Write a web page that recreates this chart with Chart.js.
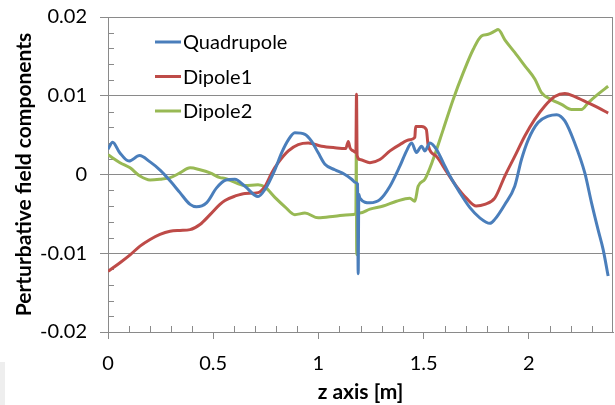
<!DOCTYPE html>
<html><head><meta charset="utf-8">
<script src="https://cdn.jsdelivr.net/npm/chart.js@4.4.0/dist/chart.umd.min.js"></script>
<style>
html,body{margin:0;padding:0;background:#fff;}
#wrap{position:relative;width:615px;height:405px;overflow:hidden;}
#corner{position:absolute;left:0;top:362px;width:5px;height:43px;background:#eeeeee;}
canvas{position:absolute;left:0;top:0;}
</style></head><body>
<div id="wrap"><canvas id="c" width="615" height="405"></canvas><div id="corner"></div></div>
<script>
const seriesNames = ['Quadrupole', 'Dipole1', 'Dipole2'];
const seriesColors = ['#4A7EBB', '#BE4B48', '#98B954'];
const xTickValues = [0, 0.5, 1, 1.5, 2];
const xTickLabels = ['0', '0.5', '1', '1.5', '2'];
const yTickValues = [-0.02, -0.01, 0, 0.01, 0.02];
const yTickLabels = ['-0.02', '-0.01', '0', '0.01', '0.02'];
const xMinorTicks = [0.1,0.2,0.3,0.4,0.6,0.7,0.8,0.9,1.1,1.2,1.3,1.4,1.6,1.7,1.8,1.9,2.1,2.2,2.3];
const yMinorTicks = [-0.018,-0.016,-0.014,-0.012,-0.008,-0.006,-0.004,-0.002,0.002,0.004,0.006,0.008,0.012,0.014,0.016,0.018];

const quadZ = [0,0.022,0.055,0.1,0.15,0.2,0.25,0.295,0.342,0.39,0.42,0.468,0.516,0.56,0.603,0.651,0.713,0.746,0.793,0.825,0.857,0.888,0.936,0.968,0.999,1.031,1.078,1.126,1.158,1.175,1.186,1.189,1.192,1.197,1.245,1.292,1.340,1.387,1.419,1.443,1.466,1.490,1.506,1.530,1.561,1.593,1.625,1.672,1.72,1.767,1.815,1.838,1.886,1.933,1.965,1.997,2.044,2.092,2.132,2.171,2.218,2.266,2.298,2.329,2.353,2.377];
const quadV = [0.0032,0.0041,0.0028,0.0017,0.0024,0.0016,0.0005,-0.0008,-0.0023,-0.0038,-0.0041,-0.0036,-0.0017,-0.0007,-0.0006,-0.0015,-0.0028,-0.0019,0.0006,0.00275,0.0044,0.0053,0.0051,0.0042,0.00275,0.0013,0.0006,0,-0.0006,-0.001,-0.0012,-0.0126,-0.0025,-0.003,-0.0036,-0.0032,-0.0015,0.00105,0.003,0.004,0.0028,0.0036,0.003,0.004,0.0032,0.0015,-0.0002,-0.0023,-0.0042,-0.0055,-0.0062,-0.0057,-0.0038,-0.0015,0.0019,0.0044,0.0066,0.0074,0.0076,0.0068,0.004,0.0002,-0.0036,-0.007,-0.0095,-0.0129];

const dip1Z = [0,0.057,0.105,0.152,0.2,0.247,0.295,0.342,0.39,0.437,0.485,0.532,0.556,0.603,0.651,0.713,0.746,0.778,0.809,0.857,0.904,0.952,1.015,1.078,1.13,1.142,1.15,1.165,1.178,1.181,1.184,1.197,1.245,1.292,1.340,1.387,1.434,1.458,1.462,1.490,1.513,1.521,1.561,1.608,1.656,1.703,1.750,1.79,1.838,1.886,1.933,1.981,2.028,2.076,2.123,2.171,2.218,2.282,2.329,2.377];
const dip1V = [-0.0123,-0.0112,-0.0102,-0.0091,-0.00825,-0.0076,-0.0072,-0.0071,-0.007,-0.00635,-0.0051,-0.0038,-0.0033,-0.00275,-0.0024,-0.0023,-0.0015,0.0002,0.0015,0.003,0.0038,0.004,0.0036,0.0034,0.0033,0.0042,0.0034,0.003,0.0028,0.0102,0.0024,0.0019,0.0015,0.0019,0.003,0.0038,0.0044,0.0047,0.0061,0.0061,0.0057,0.0038,0.0023,0.0004,-0.0015,-0.003,-0.004,-0.0038,-0.003,-0.0002,0.0023,0.0049,0.007,0.0087,0.0099,0.0103,0.0099,0.0091,0.0085,0.0078];

const dip2Z = [0,0.057,0.105,0.152,0.2,0.247,0.295,0.342,0.39,0.437,0.485,0.532,0.556,0.603,0.651,0.713,0.746,0.793,0.841,0.888,0.936,0.999,1.078,1.15,1.178,1.180,1.182,1.185,1.197,1.245,1.308,1.371,1.434,1.458,1.474,1.506,1.545,1.593,1.640,1.688,1.736,1.775,1.807,1.838,1.854,1.886,1.933,1.981,2.029,2.060,2.108,2.155,2.203,2.250,2.282,2.329,2.377];
const dip2V = [0.0025,0.0015,0.00085,-0.0002,-0.0007,-0.0006,-0.0004,0.0002,0.00085,0.0006,0.0002,-0.0004,-0.0005,-0.001,-0.0014,-0.0013,-0.0016,-0.0029,-0.0041,-0.0051,-0.0049,-0.0055,-0.0053,-0.0051,-0.005,0.003,-0.0102,-0.005,-0.0049,-0.0044,-0.004,-0.0034,-0.003,-0.0034,-0.0015,-0.0006,0.0019,0.0057,0.0095,0.0129,0.0159,0.0176,0.0178,0.0182,0.0184,0.0171,0.0155,0.0138,0.0121,0.0104,0.0095,0.0089,0.00825,0.00825,0.0091,0.0102,0.0112];

const xTitle = 'z axis [m]';
const yTitle = 'Perturbative field components';

const GRID = '#8a8a8a';
const FONT = 'Lato';

function pts(zs, vs) { return zs.map((z, i) => ({x: z, y: vs[i]})); }
const allSeries = [[quadZ, quadV], [dip1Z, dip1V], [dip2Z, dip2V]];

const extras = {
  id: 'extras',
  beforeDatasetsDraw(chart) {
    const {ctx, chartArea: a, scales: {x, y}} = chart;
    ctx.save();
    ctx.strokeStyle = GRID;
    ctx.lineWidth = 1;
    ctx.beginPath();
    xMinorTicks.forEach(v => {
      const px = Math.round(x.getPixelForValue(v)) + 0.5;
      ctx.moveTo(px, a.bottom); ctx.lineTo(px, a.bottom - 6);
    });
    yMinorTicks.forEach(v => {
      const py = Math.round(y.getPixelForValue(v)) + 0.5;
      ctx.moveTo(a.left, py); ctx.lineTo(a.left + 6, py);
    });
    ctx.stroke();
    ctx.beginPath();
    ctx.rect(Math.round(a.left) + 0.5, Math.round(a.top) + 0.5, Math.round(a.right - a.left) - 1, Math.round(a.bottom - a.top));
    ctx.stroke();
    ctx.restore();
  },
  afterDatasetsDraw(chart) {
    const ctx = chart.ctx;
    ctx.save();
    ctx.font = '20px ' + FONT;
    ctx.textBaseline = 'middle';
    ctx.textAlign = 'left';
    chart.data.datasets.forEach((ds, i) => {
      const yy = 42 + i * 34.5;
      ctx.strokeStyle = ds.borderColor;
      ctx.lineWidth = 3;
      ctx.beginPath(); ctx.moveTo(155, yy); ctx.lineTo(181, yy); ctx.stroke();
      ctx.fillStyle = '#000';
      ctx.fillText(ds.label, 183, yy + 1);
    });
    ctx.restore();
  }
};

new Chart(document.getElementById('c'), {
  type: 'line',
  data: {
    datasets: seriesNames.map((name, i) => ({
      label: name,
      data: pts(allSeries[i][0], allSeries[i][1]),
      borderColor: seriesColors[i],
      backgroundColor: seriesColors[i],
      borderWidth: 3,
      pointRadius: 0,
      fill: false,
      cubicInterpolationMode: 'monotone'
    }))
  },
  options: {
    responsive: false,
    animation: false,
    devicePixelRatio: 1,
    layout: {padding: {top: 17, right: 2, left: 0, bottom: 0}},
    plugins: {legend: {display: false}, tooltip: {enabled: false}},
    scales: {
      x: {
        type: 'linear', min: 0, max: 2.4,
        afterBuildTicks: s => { s.ticks = xTickValues.map(v => ({value: v})); },
        afterFit: s => { s.height = 73; s.paddingLeft = 0; s.paddingRight = 0; },
        ticks: {
          autoSkip: false, maxRotation: 0, padding: 13, color: '#000',
          font: {family: FONT, size: 20},
          callback: v => { const k = xTickValues.indexOf(v); return k >= 0 ? xTickLabels[k] : ''; }
        },
        grid: {drawOnChartArea: false, drawTicks: true, tickLength: 7, color: GRID},
        border: {color: GRID},
        title: {display: true, text: xTitle, color: '#000', font: {family: FONT, size: 21, weight: 'bold', lineHeight: 1.2}, padding: {top: 0, bottom: 0}}
      },
      y: {
        type: 'linear', min: -0.02, max: 0.02,
        afterBuildTicks: s => { s.ticks = yTickValues.map(v => ({value: v})); },
        afterFit: s => { s.width = 108; s.paddingTop = 0; s.paddingBottom = 0; },
        ticks: {
          padding: 13, color: '#000',
          font: {family: FONT, size: 20},
          callback: v => { const k = yTickValues.findIndex(t => Math.abs(t - v) < 1e-9); return k >= 0 ? yTickLabels[k] : ''; }
        },
        grid: {drawOnChartArea: true, drawTicks: true, tickLength: 8, color: GRID},
        border: {color: GRID},
        title: {display: true, text: yTitle, color: '#000', font: {family: FONT, size: 21, weight: 'bold', lineHeight: 1.2}, padding: {top: 12, bottom: 0}}
      }
    }
  },
  plugins: [extras]
});
</script>
</body></html>
